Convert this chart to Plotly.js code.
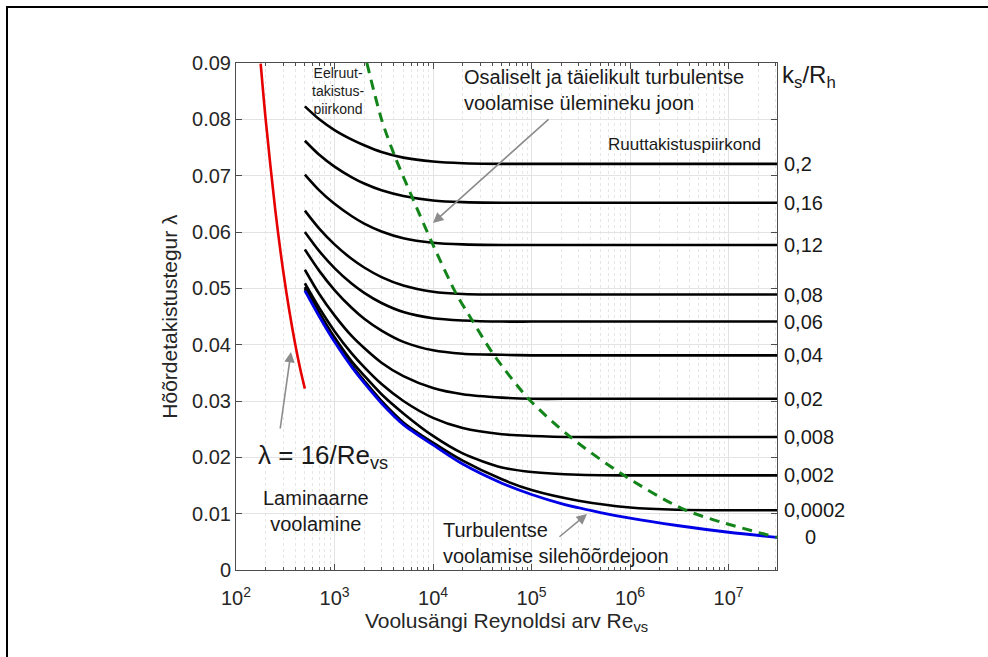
<!DOCTYPE html>
<html><head><meta charset="utf-8">
<script src="https://cdn.plot.ly/plotly-3.0.1.min.js"></script>
<style>
html,body{margin:0;padding:0;background:#fff;overflow:hidden;width:988px;height:657px}
#wrap{position:relative;width:988px;height:657px;overflow:hidden}
#frame{position:absolute;left:6px;top:6px;width:1400px;height:1000px;border-left:2px solid #000;border-top:2px solid #000;box-sizing:border-box}
#chart{position:absolute;left:0;top:0;width:988px;height:657px}
</style>
</head><body><div id="wrap"><div id="frame"></div><div id="chart"></div></div>
<script>
// ---- data ----
const reGrid = [500, 700, 1000, 1500, 2000, 3000, 5000, 1e4, 2e4, 5e4, 1e5, 3e5, 1e6, 3e6, 3.1e7];
const ks020   = [0.0823,0.0800,0.0781,0.0764,0.0754,0.0742,0.0732,0.0725,0.0722,0.0721,0.0721,0.0721,0.0721,0.0721,0.0721];
const ks016   = [0.0762,0.0737,0.0716,0.0697,0.0686,0.0674,0.0664,0.0656,0.0653,0.0652,0.0652,0.0652,0.0652,0.0652,0.0652];
const ks012   = [0.0702,0.0674,0.0650,0.0628,0.0615,0.0601,0.0589,0.0581,0.0578,0.0577,0.0577,0.0577,0.0577,0.0577,0.0577];
const ks008   = [0.0638,0.0606,0.0578,0.0552,0.0537,0.0520,0.0505,0.0494,0.0490,0.0489,0.0489,0.0489,0.0489,0.0489,0.0489];
const ks006   = [0.0600,0.0566,0.0536,0.0508,0.0492,0.0474,0.0458,0.0447,0.0443,0.0441,0.0441,0.0441,0.0441,0.0441,0.0441];
const ks004   = [0.0569,0.0531,0.0497,0.0465,0.0446,0.0425,0.0405,0.0390,0.0384,0.0382,0.0381,0.0381,0.0381,0.0381,0.0381];
const ks002   = [0.0533,0.0490,0.0452,0.0415,0.0394,0.0368,0.0344,0.0323,0.0312,0.0306,0.0304,0.0304,0.0304,0.0304,0.0304];
const ks0008  = [0.0509,0.0465,0.0424,0.0384,0.0360,0.0330,0.0300,0.0270,0.0252,0.0241,0.0238,0.0236,0.0236,0.0236,0.0236];
const ks0002  = [0.0502,0.0457,0.0413,0.0370,0.0345,0.0312,0.0278,0.0238,0.0207,0.0182,0.0174,0.0169,0.0168,0.0168,0.0168];
const ks00002 = [0.0499,0.0453,0.0408,0.0363,0.0336,0.0300,0.0262,0.0226,0.0194,0.0161,0.0142,0.0123,0.0111,0.0107,0.0106];
const roughSeries = [ks020, ks016, ks012, ks008, ks006, ks004, ks002, ks0008, ks0002, ks00002];
const roughLabels = ['0,2','0,16','0,12','0,08','0,06','0,04','0,02','0,008','0,002','0,0002'];

const smoothRe     = [500,700,1000,1500,2000,3000,5000,1e4,2e4,5e4,1e5,2e5,5e5,1e6,3e6,1e7,3.1e7];
const smoothLambda = [0.0496,0.0450,0.0405,0.0360,0.0332,0.0296,0.0258,0.0222,0.0188,0.0154,0.0134,0.0118,0.0102,0.0092,0.0079,0.0067,0.0058];
const smoothLabel = '0';

const laminarRe     = [178, 200, 250, 300, 350, 400, 450, 500];
const laminarLambda = [0.0899, 0.0800, 0.0640, 0.0533, 0.0457, 0.0400, 0.0356, 0.0322];

const transRe     = [2130, 3000, 4100, 6200, 1e4, 1.7e4, 2.5e4, 4.1e4, 9.2e4, 2.44e5, 8.5e5, 3.7e6, 3.1e7];
const transLambda = [0.0900, 0.0800, 0.0734, 0.0660, 0.0577, 0.0492, 0.0443, 0.0383, 0.0305, 0.0237, 0.0169, 0.0106, 0.0058];

const xTickVals = [1e2, 1e3, 1e4, 1e5, 1e6, 1e7];
const xTickText = ['10<sup>2</sup>','10<sup>3</sup>','10<sup>4</sup>','10<sup>5</sup>','10<sup>6</sup>','10<sup>7</sup>'];
const yTickVals = [0,0.01,0.02,0.03,0.04,0.05,0.06,0.07,0.08,0.09];
const yTickText = ['0','0.01','0.02','0.03','0.04','0.05','0.06','0.07','0.08','0.09'];

// ---- layout geometry ----
const W = 988, H = 657;
const L = 236, R = 777, T = 63, B = 570;
const px = x => (x - L) / (R - L);
const py = y => (B - y) / (B - T);
const FONT = 'Liberation Sans, Arial, sans-serif';

const minorVals = [];
for (let e = 2; e <= 7; e++) for (let k = 2; k <= 9; k++) { const v = k * Math.pow(10, e); if (v <= 3.1e7) minorVals.push(v); }

const traces = [];
roughSeries.forEach((ys, i) => traces.push({
  x: reGrid, y: ys, type: 'scatter', mode: 'lines', name: roughLabels[i],
  line: {color: '#000', width: 2.6, shape: 'spline', smoothing: 0.8}, hoverinfo: 'skip'
}));
traces.push({x: smoothRe, y: smoothLambda, type: 'scatter', mode: 'lines', name: 'sile',
  line: {color: '#0000e6', width: 2.8, shape: 'spline', smoothing: 0.8}});
traces.push({x: laminarRe, y: laminarLambda, type: 'scatter', mode: 'lines', name: 'laminaarne',
  line: {color: '#e60000', width: 2.6, shape: 'spline', smoothing: 0.8}});
traces.push({x: transRe, y: transLambda, type: 'scatter', mode: 'lines', name: 'üleminek',
  line: {color: '#13841a', width: 3, dash: '10px,7px', shape: 'spline', smoothing: 0.8}});

const ann = [];
const txt = (x, y, text, size, opts) => ann.push(Object.assign({
  xref: 'paper', yref: 'paper', x: px(x), y: py(y), text: text, showarrow: false,
  font: {family: FONT, size: size, color: '#1a1a1a'}, xanchor: 'left', yanchor: 'middle', align: 'left'
}, opts || {}));

txt(338, 91, 'Eelruut-<br>takistus-<br>piirkond', 14, {xanchor: 'center', align: 'center'});
txt(462, 90, 'Osaliselt ja täielikult turbulentse<br>voolamise ülemineku joon', 20);
txt(780, 76, 'k<sub>s</sub>/R<sub>h</sub>', 24);
txt(606, 144, 'Ruuttakistuspiirkond', 17);
txt(256, 456, 'λ = 16/Re<sub>vs</sub>', 26);
txt(316, 511, 'Laminaarne<br>voolamine', 20, {xanchor: 'center', align: 'center'});
txt(441, 543, 'Turbulentse<br>voolamise silehõõrdejoon', 20);

roughSeries.forEach((ys, i) => ann.push({
  xref: 'paper', yref: 'y', x: px(782), y: ys[ys.length - 1], text: roughLabels[i], showarrow: false,
  xanchor: 'left', yanchor: 'middle', font: {family: FONT, size: 20, color: '#1a1a1a'}
}));
ann.push({xref: 'paper', yref: 'y', x: px(803), y: smoothLambda[smoothLambda.length - 1], text: smoothLabel,
  showarrow: false, xanchor: 'left', yanchor: 'middle', font: {family: FONT, size: 20, color: '#1a1a1a'}});

const arrow = (hx, hy, tx, ty) => ann.push({
  xref: 'paper', yref: 'paper', x: px(hx), y: py(hy), ax: tx - hx, ay: ty - hy, text: '',
  showarrow: true, arrowhead: 2, arrowsize: 1.3, arrowwidth: 1.6, arrowcolor: '#8c8c8c'
});
arrow(291, 352, 280, 430);
arrow(433, 223, 550, 118);
arrow(587, 514, 558, 538);

const axisCommon = {
  showline: true, linecolor: '#4d4d4d', linewidth: 1, mirror: 'ticks',
  ticks: 'inside', ticklen: 6, tickcolor: '#4d4d4d',
  showgrid: true, gridcolor: '#e3e3e3', gridwidth: 1, zeroline: false,
  tickfont: {family: FONT, size: 20, color: '#262626'}
};

const layout = {
  width: W, height: H, paper_bgcolor: 'rgba(0,0,0,0)', plot_bgcolor: '#fff', showlegend: false,
  margin: {l: L, r: W - R, t: T, b: H - B},
  xaxis: Object.assign({}, axisCommon, {
    type: 'log', range: [2, Math.log10(3.1e7)], tickmode: 'array', tickvals: xTickVals, ticktext: xTickText,
    ticklabelstandoff: 10,
    minor: {tickmode: 'array', tickvals: minorVals, ticks: 'inside', ticklen: 3, tickcolor: '#4d4d4d',
            showgrid: true, gridcolor: '#e6e6e6', griddash: 'dot', gridwidth: 1},
    title: {text: 'Voolusängi Reynoldsi arv Re<sub>vs</sub>', font: {family: FONT, size: 21, color: '#262626'}, standoff: 2}
  }),
  yaxis: Object.assign({}, axisCommon, {
    range: [0, 0.09], tickmode: 'array', tickvals: yTickVals, ticktext: yTickText,
    title: {text: 'Hõõrdetakistustegur λ', font: {family: FONT, size: 21, color: '#262626'}, standoff: 8}
  }),
  annotations: ann
};

Plotly.newPlot('chart', traces, layout, {staticPlot: true, displayModeBar: false});
</script></body></html>
